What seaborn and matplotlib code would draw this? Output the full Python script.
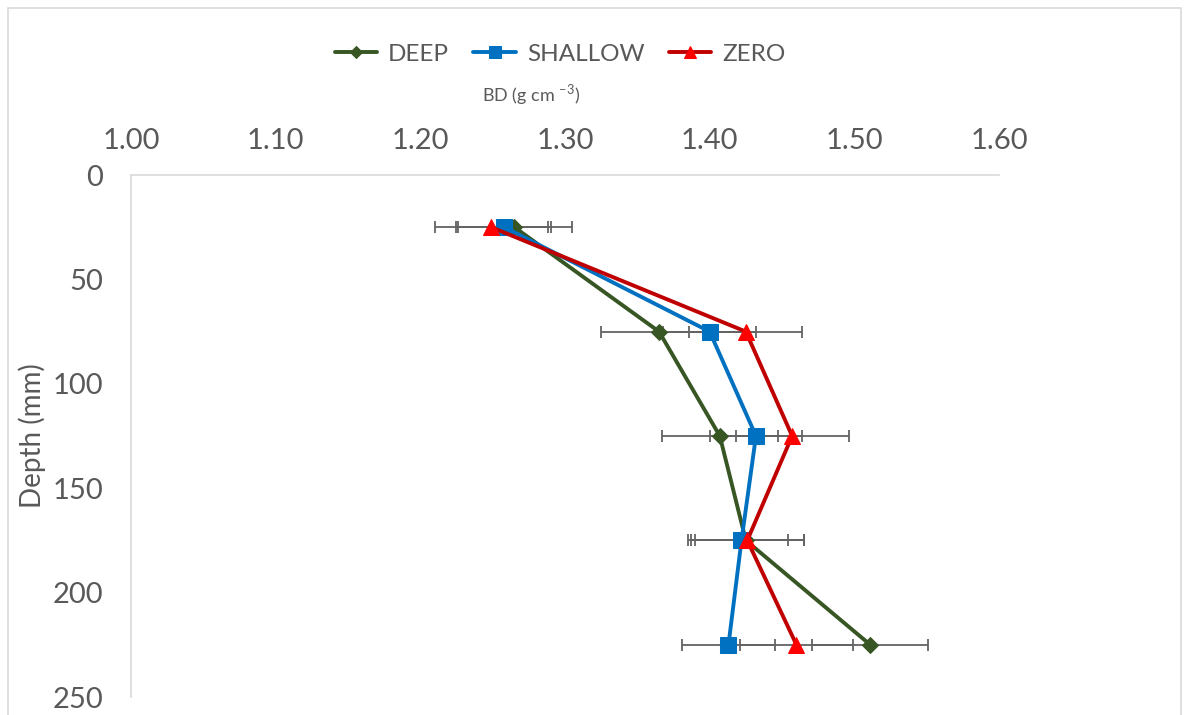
import numpy as np
import pandas as pd
import seaborn as sns
import matplotlib.pyplot as plt
from matplotlib.patches import Rectangle

depth = [25, 75, 125, 175, 225]
treatments = ['DEEP', 'SHALLOW', 'ZERO']
bd_deep = [1.265, 1.365, 1.407, 1.425, 1.511]
bd_shallow = [1.258, 1.400, 1.432, 1.422, 1.413]
bd_zero = [1.249, 1.425, 1.457, 1.426, 1.460]
err_deep = [0.040] * 5
err_shallow = [0.032] * 5
err_zero = [0.039] * 5
x_ticks = [1.00, 1.10, 1.20, 1.30, 1.40, 1.50, 1.60]
y_ticks = [0, 50, 100, 150, 200, 250]

sns.set_style('white')
plt.rcParams['font.family'] = ['Lato', 'DejaVu Sans']
plt.rcParams['mathtext.fontset'] = 'custom'
plt.rcParams['mathtext.rm'] = 'Lato'

line_colors = {'DEEP': '#375623', 'SHALLOW': '#0070c0', 'ZERO': '#c00000'}
face_colors = {'DEEP': '#375623', 'SHALLOW': '#0070c0', 'ZERO': '#ff0000'}
markers = {'DEEP': 'D', 'SHALLOW': 's', 'ZERO': '^'}
sizes = {'DEEP': 8.5, 'SHALLOW': 12, 'ZERO': 12}
grey = '#595959'

df = pd.DataFrame({
    'depth': depth * 3,
    'bd': bd_deep + bd_shallow + bd_zero,
    'err': err_deep + err_shallow + err_zero,
    'treatment': np.repeat(treatments, len(depth)),
})

fig = plt.figure(figsize=(11.86, 7.15), dpi=100)
ax = fig.add_axes([131 / 1186, 18 / 715, 868 / 1186, 522 / 715])

sns.lineplot(data=df, x='bd', y='depth', hue='treatment', style='treatment',
             hue_order=treatments, palette=line_colors, markers=markers, dashes=False,
             sort=False, estimator=None, errorbar=None, linewidth=2.8, legend=False, ax=ax)

lines = ax.get_lines()[:3]
for ln, t in zip(lines, treatments):
    ln.set_markersize(sizes[t])
    ln.set_markerfacecolor(face_colors[t])
    ln.set_markeredgecolor(face_colors[t])
    ln.set_zorder(3)

for t in treatments:
    sub = df[df['treatment'] == t]
    ax.errorbar(sub['bd'], sub['depth'], xerr=sub['err'], fmt='none', ecolor='#636363',
                elinewidth=1.3, capsize=4.5, capthick=1.3, zorder=2)

ax.set_xlim(1.0, 1.6)
ax.set_ylim(250, 0)
ax.xaxis.tick_top()
ax.set_xticks(x_ticks)
ax.set_xticklabels([f'{v:.2f}' for v in x_ticks])
ax.set_yticks(y_ticks)
ax.tick_params(length=0, labelsize=21, colors=grey)
ax.tick_params(axis='x', pad=15)
ax.tick_params(axis='y', pad=20)
for s in ['bottom', 'right']:
    ax.spines[s].set_visible(False)
for s in ['left', 'top']:
    ax.spines[s].set_color('#d9d9d9')
    ax.spines[s].set_linewidth(1.2)

ax.set_xlabel('')
ax.set_ylabel('Depth (mm)', fontsize=20, color=grey)
ax.yaxis.set_label_coords(-0.098, 0.5)

fig.text(531 / 1186, 1 - 95 / 715, r'BD (g cm $^{\mathregular{-3}}$)', ha='center', va='center',
         fontsize=13, color=grey)

fig.legend(lines, treatments, loc='center', bbox_to_anchor=(560 / 1186, 1 - 54 / 715), ncol=3,
           frameon=False, fontsize=17.5, labelcolor=grey, handlelength=1.75, handletextpad=0.45,
           columnspacing=1.0, markerscale=0.7)

fig.patches.append(Rectangle((8 / 1186, -0.05), 1173 / 1186, 1.05 - 8 / 715,
                             transform=fig.transFigure, fill=False, edgecolor='#d9d9d9', linewidth=1.2))

fig.savefig('out.png', dpi=100)
